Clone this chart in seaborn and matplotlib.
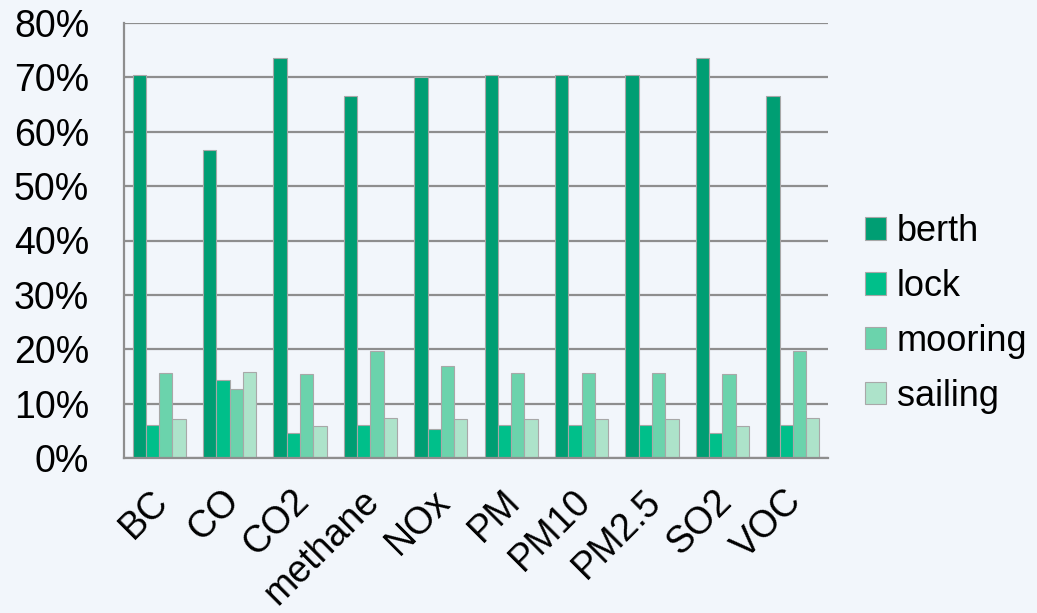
import pandas as pd
import matplotlib.pyplot as plt
import matplotlib.transforms as mtrans
import seaborn as sns
from matplotlib.ticker import PercentFormatter

pollutants = ['BC', 'CO', 'CO2', 'methane', 'NOx', 'PM', 'PM10', 'PM2.5', 'SO2', 'VOC']
berth = [70.5, 56.7, 73.5, 66.5, 70.0, 70.5, 70.5, 70.5, 73.5, 66.5]
lock = [6.0, 14.3, 4.6, 6.0, 5.4, 6.0, 6.0, 6.0, 4.6, 6.0]
mooring = [15.7, 12.6, 15.4, 19.7, 16.9, 15.7, 15.7, 15.7, 15.4, 19.7]
sailing = [7.1, 15.9, 5.8, 7.3, 7.1, 7.1, 7.1, 7.1, 5.8, 7.3]

modes = ['berth', 'lock', 'mooring', 'sailing']
colors = ['#009E73', '#00BF8A', '#6BD3AC', '#ADE3CA']

df = pd.DataFrame({'pollutant': pollutants, 'berth': berth, 'lock': lock,
                   'mooring': mooring, 'sailing': sailing})
long_df = df.melt(id_vars='pollutant', var_name='mode', value_name='share')

bg = '#F2F6FB'
grid_c = '#8E8E8E'
sns.set_style('white')
plt.rcParams['font.family'] = ['Liberation Sans', 'DejaVu Sans']
plt.rcParams['text.color'] = 'black'
plt.rcParams['xtick.color'] = 'black'
plt.rcParams['ytick.color'] = 'black'

fig = plt.figure(figsize=(10.37, 6.13), dpi=100, facecolor=bg)
ax = fig.add_axes([124 / 1037, 1 - 458 / 613, (828 - 124) / 1037, (458 - 23) / 613])
ax.set_facecolor(bg)

sns.barplot(data=long_df, x='pollutant', y='share', hue='mode', hue_order=modes,
            palette=colors, saturation=1, width=0.755, edgecolor='#A8A8A8',
            linewidth=0.8, errorbar=None, ax=ax)

ax.set_ylim(0, 80)
ax.set_yticks(range(0, 81, 10))
ax.yaxis.set_major_formatter(PercentFormatter(decimals=0))
ax.grid(axis='y', color=grid_c, linewidth=1.6)
ax.set_axisbelow(True)
ax.set_xlim(-0.5, len(pollutants) - 0.5)

# category ticks sit between groups
ax.set_xticks([i - 0.5 for i in range(len(pollutants) + 1)], minor=True)
ax.tick_params(axis='x', which='minor', length=11, width=1.6, color=grid_c)
ax.tick_params(axis='x', which='major', length=0, pad=18)
ax.tick_params(axis='y', length=12, width=1.6, color=grid_c, pad=13)
shift = mtrans.ScaledTranslation(-9 / 100, 0, fig.dpi_scale_trans)
for lab in ax.get_xticklabels():
    lab.set_rotation(45)
    lab.set_ha('right')
    lab.set_rotation_mode('anchor')
    lab.set_fontsize(27)
    lab.set_transform(lab.get_transform() + shift)
plt.setp(ax.get_yticklabels(), fontsize=27)

for side in ['top', 'right']:
    ax.spines[side].set_visible(False)
for side in ['left', 'bottom']:
    ax.spines[side].set_color(grid_c)
    ax.spines[side].set_linewidth(1.6)

ax.set_xlabel('')
ax.set_ylabel('')
leg = ax.legend(loc='center left', bbox_to_anchor=(865 / 1037, 1 - 314 / 613),
                bbox_transform=fig.transFigure, frameon=False, fontsize=26,
                handlelength=0.58, handleheight=0.58, handletextpad=0.3,
                labelspacing=0.55, borderaxespad=0, borderpad=0)

fig.savefig('out.png', dpi=100, facecolor=bg)
